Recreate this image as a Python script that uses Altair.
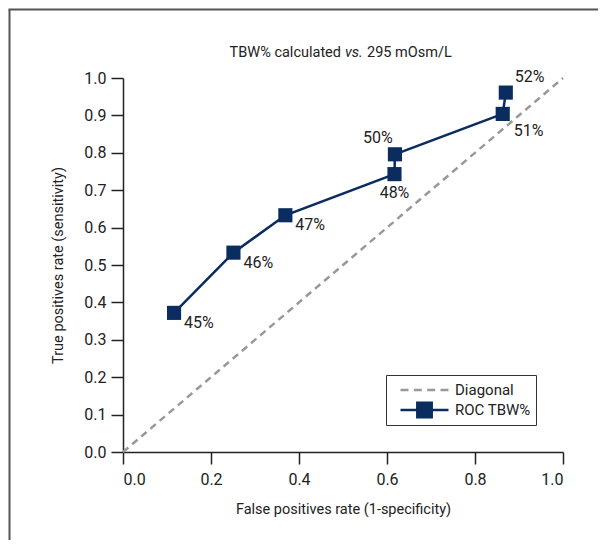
import altair as alt
import pandas as pd

# ROC points (false positive rate, true positive rate) with their cut-off labels
fpr = [0.116, 0.251, 0.369, 0.617, 0.618, 0.863, 0.870]
tpr = [0.372, 0.533, 0.633, 0.743, 0.796, 0.904, 0.961]
cutoffs = ["45%", "46%", "47%", "48%", "50%", "51%", "52%"]

diag_x = [0.0, 1.0]
diag_y = [0.0, 1.0]

series_names = ["Diagonal", "ROC TBW%"]
series_colors = ["#999999", "#0b2c5f"]

x_ticks = [0.0, 0.2, 0.4, 0.6, 0.8, 1.0]
y_ticks = [0.0, 0.1, 0.2, 0.3, 0.4, 0.5, 0.6, 0.7, 0.8, 0.9, 1.0]

title_parts = ["TBW% calculated", "vs.", "295 mOsm/L"]

FONT = "Roboto, sans-serif"
NAVY = series_colors[1]
GRAY = series_colors[0]
TXT = "#222222"

DASH_PATH = "M-1,0H-0.667M-0.444,0H-0.111M0.111,0H0.444M0.667,0H1"
ROC_PATH = "M-1,0H1M-0.3,-0.3H0.3V0.3H-0.3Z"

roc = pd.DataFrame({"fpr": fpr, "tpr": tpr, "label": cutoffs, "order": list(range(len(fpr)))})
diag = pd.DataFrame({"fpr": diag_x, "tpr": diag_y})
legend_rows = pd.DataFrame({"series": series_names, "fpr": [None, None], "tpr": [None, None]})

X = alt.X("fpr:Q", scale=alt.Scale(domain=[0, 1], nice=False),
          axis=alt.Axis(values=x_ticks, format=".1f", title="False positives rate (1-specificity)"))
Y = alt.Y("tpr:Q", scale=alt.Scale(domain=[0, 1], nice=False),
          axis=alt.Axis(values=y_ticks, format=".1f", title="True positives rate (sensitivity)"))

legend_def = alt.Legend(
    title=None,
    orient="none",
    legendX=263,
    legendY=297,
    symbolSize=2304,
    symbolStrokeWidth=2.5,
    symbolOffset=8,
    clipHeight=20,
    labelFontSize=15,
    labelFont=FONT,
    labelColor=TXT,
    labelOffset=5,
    strokeColor="#333333",
    fillColor="white",
    padding=5,
    rowPadding=-3,
)

diag_layer = alt.Chart(diag).mark_line(strokeWidth=2.5, color=GRAY, strokeDash=[7, 5]).encode(x=X, y=Y)

roc_line = alt.Chart(roc).mark_line(strokeWidth=2.5, color=NAVY).encode(x=X, y=Y, order="order:Q")

# layer without drawable rows that only provides the legend symbols
legend_layer = alt.Chart(legend_rows).mark_point(filled=True, strokeWidth=2.5, opacity=1).encode(
    x=X, y=Y,
    shape=alt.Shape("series:N", scale=alt.Scale(domain=series_names, range=[DASH_PATH, ROC_PATH]),
                    legend=legend_def),
    fill=alt.Fill("series:N", scale=alt.Scale(domain=series_names, range=series_colors), legend=legend_def),
    stroke=alt.Stroke("series:N", scale=alt.Scale(domain=series_names, range=series_colors), legend=legend_def),
)

points = alt.Chart(roc).mark_point(shape="square", filled=True, size=200, color=NAVY, opacity=1).encode(
    x=X, y=Y
)

def label_layer(which, dx, dy, align):
    return alt.Chart(roc).transform_filter(
        alt.FieldOneOfPredicate(field="label", oneOf=which)
    ).mark_text(dx=dx, dy=dy, align=align, baseline="middle", fontSize=16, font=FONT, color=TXT).encode(
        x=X, y=Y, text="label:N"
    )

labels = [
    label_layer(["45%", "46%", "47%"], 10, 10, "left"),
    label_layer(["48%"], 0, 19, "center"),
    label_layer(["50%"], -17, -16, "center"),
    label_layer(["51%"], 11, 17, "left"),
    label_layer(["52%"], 9, -16, "left"),
]

one = pd.DataFrame({"k": [0]})
frame_left = alt.Chart(one).mark_rule(color="#555555", strokeWidth=2).encode(
    x=alt.value(-113.5), y=alt.value(-68.5), y2=alt.value(480)
)
frame_top = alt.Chart(one).mark_rule(color="#555555", strokeWidth=2).encode(
    x=alt.value(-114.5), x2=alt.value(480), y=alt.value(-68.5)
)

title_a = alt.Chart(one).mark_text(text=title_parts[0], align="right", baseline="middle", fontSize=14.5,
                                   font=FONT, color=TXT).encode(x=alt.value(218), y=alt.value(-25))
title_b = alt.Chart(one).mark_text(text=title_parts[1], align="left", baseline="middle", fontSize=14.5,
                                   font=FONT, fontStyle="italic", color=TXT).encode(x=alt.value(222), y=alt.value(-25))
title_c = alt.Chart(one).mark_text(text=title_parts[2], align="left", baseline="middle", fontSize=14.5,
                                   font=FONT, color=TXT).encode(x=alt.value(244), y=alt.value(-25))

chart = alt.layer(frame_left, frame_top, title_a, title_b, title_c,
                  diag_layer, roc_line, legend_layer, points, *labels).properties(
    width=440,
    height=374,
    autosize=alt.AutoSizeParams(type="none"),
    padding={"left": 115, "top": 70, "right": 35, "bottom": 88},
).configure_view(stroke=None).configure_axis(
    grid=False,
    domainColor="#222222",
    domainWidth=1.5,
    tickColor="#222222",
    tickWidth=1.5,
    tickSize=12,
    labelFont=FONT,
    labelFontSize=16,
    labelColor=TXT,
    labelOverlap=False,
    titleFont=FONT,
    titleFontSize=14.5,
    titleFontWeight="normal",
    titleColor=TXT,
).configure_axisX(labelPadding=7, titlePadding=15).configure_axisY(labelPadding=5, titlePadding=18)

chart.save("out.html", embed_options={"renderer": "svg", "actions": False})
